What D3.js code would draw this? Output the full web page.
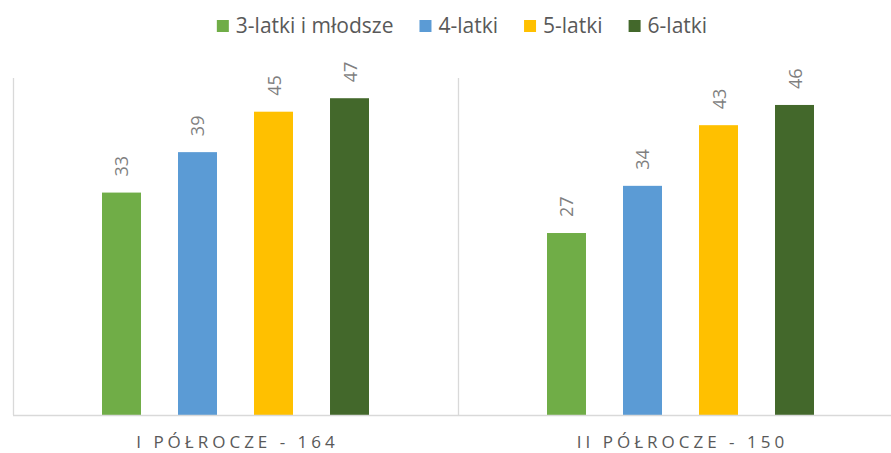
<!DOCTYPE html>
<html>
<head>
  <meta charset="utf-8">
  <script src="https://d3js.org/d3.v7.min.js"></script>
  <style>
    body { margin: 0; background: #fff; }
    text { font-family: "Open Sans", sans-serif; }
  </style>
</head>
<body>
<script>
var categories = ["I PÓŁROCZE - 164", "II PÓŁROCZE - 150"];
var seriesNames = ["3-latki i młodsze", "4-latki", "5-latki", "6-latki"];
var seriesColors = ["#70ad47", "#5b9bd5", "#ffc000", "#43682b"];
var values = [
  [33, 39, 45, 47],
  [27, 34, 43, 46]
];

var W = 891, H = 453;
var plotLeft = 13, plotRight = 903, plotTop = 78, plotBottom = 415;

var svg = d3.select("body").append("svg")
  .attr("width", W)
  .attr("height", H);

var x0 = d3.scaleBand()
  .domain(categories)
  .range([plotLeft, plotRight]);

var x1 = d3.scaleBand()
  .domain(seriesNames)
  .range([0, x0.bandwidth()])
  .paddingInner(0.487)
  .paddingOuter(1.171);

var y = d3.scaleLinear()
  .domain([0, 50])
  .range([plotBottom, plotTop]);

// separators between categories
svg.selectAll("line.sep")
  .data(categories.concat(["end"]))
  .enter().append("line")
  .attr("class", "sep")
  .attr("x1", function(d, i) { return Math.round(plotLeft + i * x0.bandwidth()) + 0.5; })
  .attr("x2", function(d, i) { return Math.round(plotLeft + i * x0.bandwidth()) + 0.5; })
  .attr("y1", plotTop)
  .attr("y2", plotBottom)
  .style("stroke", "#d9d9d9")
  .style("stroke-width", 1.3);

var groups = svg.selectAll("g.grp")
  .data(categories)
  .enter().append("g")
  .attr("class", "grp")
  .attr("transform", function(d) { return "translate(" + x0(d) + ",0)"; });

groups.selectAll("rect")
  .data(function(d, i) { return values[i].map(function(v, j) { return {s: seriesNames[j], v: v, c: seriesColors[j]}; }); })
  .enter().append("rect")
  .attr("x", function(d) { return x1(d.s); })
  .attr("y", function(d) { return y(d.v); })
  .attr("width", x1.bandwidth())
  .attr("height", function(d) { return plotBottom - y(d.v); })
  .style("fill", function(d) { return d.c; });

groups.selectAll("text.val")
  .data(function(d, i) { return values[i].map(function(v, j) { return {s: seriesNames[j], v: v}; }); })
  .enter().append("text")
  .attr("class", "val")
  .attr("transform", function(d) {
    return "translate(" + (x1(d.s) + x1.bandwidth() / 2 + 7) + "," + (y(d.v) - 16) + ") rotate(-90)";
  })
  .style("font-size", "18px")
  .style("fill", "#7f7f7f")
  .text(function(d) { return d.v; });

// baseline
svg.append("line")
  .attr("x1", plotLeft).attr("x2", W)
  .attr("y1", plotBottom + 0.5).attr("y2", plotBottom + 0.5)
  .style("stroke", "#d9d9d9")
  .style("stroke-width", 1.3);

// category labels
svg.selectAll("text.cat")
  .data(categories)
  .enter().append("text")
  .attr("class", "cat")
  .attr("x", function(d) { return x0(d) + x0.bandwidth() / 2 + 2; })
  .attr("y", 448)
  .style("text-anchor", "middle")
  .style("font-size", "17px")
  .style("letter-spacing", "4px")
  .style("fill", "#595959")
  .text(function(d) { return d; });

// legend
var legend = svg.append("g");
var lx = 0;
seriesNames.forEach(function(name, i) {
  var g = legend.append("g").attr("transform", "translate(" + lx + ",0)");
  g.append("rect").attr("x", 0).attr("y", 20).attr("width", 12).attr("height", 12)
    .style("fill", seriesColors[i]);
  var t = g.append("text").attr("x", 19).attr("y", 33)
    .style("font-size", "21px")
    .style("fill", "#595959")
    .text(name);
  lx += 19 + t.node().getComputedTextLength() + 26;
});
var lw = lx - 26;
legend.attr("transform", "translate(" + (462 - lw / 2) + ",0)");
</script>
</body>
</html>
